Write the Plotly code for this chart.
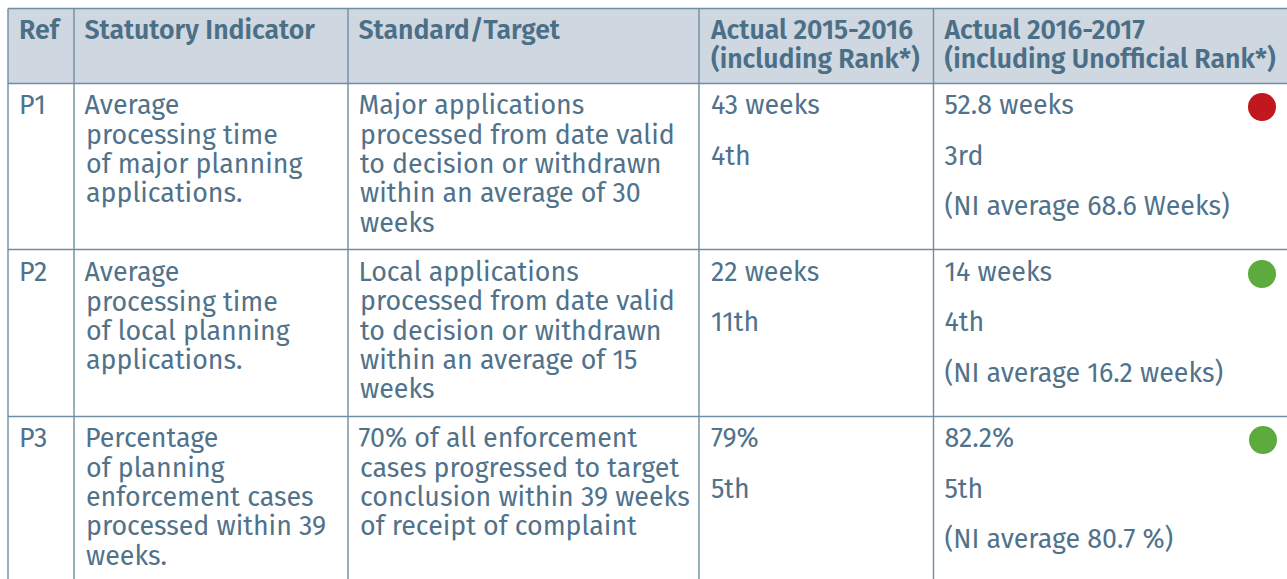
import plotly.graph_objects as go

W, H = 1287, 579
TEXT = "#50728a"
HEAD_TEXT = "#4b6f87"
LINE = "#6f8ea3"
HEAD_BG = "#cfd7e0"
FONT = "Fira Sans, Noto Sans, sans-serif"
YS = 2.7

col_edges = [8, 74, 348, 699, 933.5, 1287]
row_edges = [8.5, 83.5, 249.5, 416.5, 579]

header_lines = [
    (19, 30, "Ref"), (84.5, 30, "Statutory Indicator"), (358.5, 30, "Standard/Target"),
    (711, 30, "Actual 2015-2016"), (711, 59, "(including Rank*)"),
    (944.5, 30, "Actual 2016-2017"), (944.5, 59, "(including Unofficial Rank*)"),
]
body_lines = [
    (19, 105, "P1"), (84.5, 105, "Average"), (86, 135, "processing time"), (86, 164, "of major planning"), (86, 193, "applications."),
    (358.5, 105, "Major applications"), (360, 135, "processed from date valid"), (360, 164, "to decision or withdrawn"), (360, 193, "within an average of 30"), (360, 223, "weeks"),
    (711, 105, "43 weeks"), (711, 156, "4th"),
    (944.5, 105, "52.8 weeks"), (944.5, 156, "3rd"), (944.5, 206, "(NI average 68.6 Weeks)"),
    (19, 272, "P2"), (84.5, 272, "Average"), (86, 302, "processing time"), (86, 331, "of local planning"), (86, 360, "applications."),
    (358.5, 272, "Local applications"), (360, 301, "processed from date valid"), (360, 331, "to decision or withdrawn"), (360, 360, "within an average of 15"), (360, 389, "weeks"),
    (711, 272, "22 weeks"), (711, 322, "11th"),
    (944.5, 272, "14 weeks"), (944.5, 322, "4th"), (944.5, 373, "(NI average 16.2 weeks)"),
    (19, 438, "P3"), (85, 438, "Percentage"), (86, 468, "of planning"), (86, 497, "enforcement cases"), (86, 526, "processed within 39"), (86, 556, "weeks."),
    (358.5, 438, "70% of all enforcement"), (360, 468, "cases progressed to target"), (360, 497, "conclusion within 39 weeks"), (360, 526, "of receipt of complaint"),
    (711, 438, "79%"), (711, 489, "5th"),
    (944.5, 438, "82.2%"), (944.5, 489, "5th"), (944.5, 539, "(NI average 80.7 %)"),
]
status_x = [1262, 1262, 1263]
status_y = [107, 274, 440]
status_col = ["#c0181d", "#5cab3c", "#5cab3c"]

fig = go.Figure()
fig.add_shape(type="rect", x0=col_edges[0], x1=W, y0=row_edges[0], y1=row_edges[1], fillcolor=HEAD_BG, line_width=0, layer="below")
for x in col_edges[:-1]:
    fig.add_shape(type="line", x0=x, x1=x, y0=row_edges[0], y1=H, line=dict(color=LINE, width=1.4))
for y in row_edges[:-1]:
    fig.add_shape(type="line", x0=col_edges[0], x1=W, y0=y, y1=y, line=dict(color=LINE, width=1.4))

fig.add_trace(go.Scatter(x=[t[0] for t in header_lines], y=[t[1] + YS for t in header_lines], text=[t[2] for t in header_lines],
    mode="text", textposition="middle right", textfont=dict(family=FONT, size=26.65, color=HEAD_TEXT, weight=600), hoverinfo="skip"))
fig.add_trace(go.Scatter(x=[t[0] for t in body_lines], y=[t[1] + YS for t in body_lines], text=[t[2] for t in body_lines],
    mode="text", textposition="middle right", textfont=dict(family=FONT, size=26.8, color=TEXT), hoverinfo="skip"))
fig.add_trace(go.Scatter(x=status_x, y=status_y, mode="markers", marker=dict(size=28, color=status_col), hoverinfo="skip"))

fig.update_layout(width=W, height=H, margin=dict(l=0, r=0, t=0, b=0), showlegend=False,
    plot_bgcolor="white", paper_bgcolor="white",
    xaxis=dict(range=[0, W], visible=False), yaxis=dict(range=[H, 0], visible=False))
fig.write_html("out.html", config=dict(displayModeBar=False),
               post_script="document.body.style.margin='0';document.documentElement.style.overflow='hidden';")
